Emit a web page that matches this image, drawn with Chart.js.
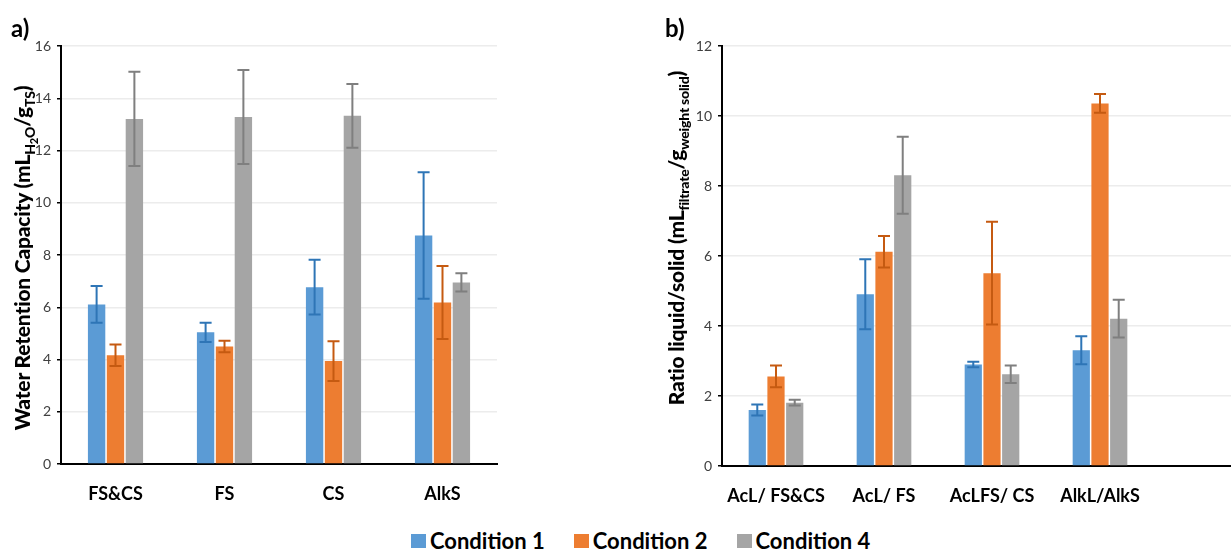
<!DOCTYPE html>
<html>
<head>
<meta charset="utf-8">
<script src="https://cdn.jsdelivr.net/npm/chart.js@4.4.1/dist/chart.umd.min.js"></script>
<style>
  html, body { margin: 0; padding: 0; background: #fff; }
  #page { position: relative; width: 1231px; height: 552px; overflow: hidden; font-family: Lato, "Open Sans", sans-serif; }
  canvas { position: absolute; top: 0; }
  #chartA { left: 0; }
  #chartB { left: 620px; }
  .panel { position: absolute; font-weight: bold; font-size: 24px; color: #000; }
  .ytitle { position: absolute; font-weight: 900; font-size: 21px; color: #000; white-space: nowrap;
            text-align: center; transform: rotate(-90deg); line-height: 24px; height: 24px; letter-spacing: -0.2px; }
  .ytitle sub { font-size: 14px; vertical-align: -5px; line-height: 0; }
  .ytitle sub sub { font-size: 11px; vertical-align: -3px; }
  #legend { position: absolute; left: 411px; top: 527px; display: flex; align-items: center;
            font-weight: bold; font-size: 22px; color: #000; }
  #legend span.box { display: inline-block; width: 15px; height: 14px; margin-right: 4px; }
  #legend .item { display: flex; align-items: center; margin-right: 29px; }
</style>
</head>
<body>
<div id="page">
  <canvas id="chartA" width="500" height="520"></canvas>
  <canvas id="chartB" width="660" height="520"></canvas>
  <div class="panel" style="left:11px; top:13px;">a)</div>
  <div class="panel" style="left:665px; top:13px;">b)</div>
  <div class="ytitle" style="width:420px; left:-188px; top:246px;">Water Retention Capacity (mL<sub>H<sub>2</sub>O</sub>/g<sub>TS</sub>)</div>
  <div class="ytitle" style="width:420px; left:466px; top:226px;">Ratio liquid/solid (mL<sub>filtrate</sub>/g<sub>weight solid</sub>)</div>
  <div id="legend"></div>
</div>
<script>
// panel a) water retention capacity
var catsA = ["FS&CS", "FS", "CS", "AlkS"]
var cond1A = [6.11, 5.04, 6.77, 8.75]
var err1A = [0.70, 0.37, 1.05, 2.42]
var cond2A = [4.16, 4.50, 3.94, 6.18]
var err2A = [0.41, 0.22, 0.76, 1.40]
var cond4A = [13.21, 13.28, 13.33, 6.95]
var err4A = [1.80, 1.80, 1.22, 0.35]

// panel b) ratio liquid/solid
var catsB = ["AcL/ FS&CS", "AcL/ FS", "AcLFS/ CS", "AlkL/AlkS"]
var cond1B = [1.60, 4.91, 2.90, 3.31]
var err1B = [0.16, 1.00, 0.08, 0.40]
var cond2B = [2.56, 6.12, 5.51, 10.36]
var err2B = [0.31, 0.45, 1.47, 0.27]
var cond4B = [1.81, 8.31, 2.62, 4.21]
var err4B = [0.08, 1.10, 0.25, 0.54]

var seriesNames = ["Condition 1", "Condition 2", "Condition 4"]
var fillColors = ["#5B9BD5", "#ED7D31", "#A5A5A5"]
var errColors = ["#2E75B6", "#C55A11", "#7F7F7F"]

// draws the whiskers using the y scale of each chart
var errorBars = {
    id: "errorBars",
    afterDatasetsDraw(chart) {
        const ctx = chart.ctx
        const y = chart.scales.y
        chart.data.datasets.forEach((ds, d) => {
            const meta = chart.getDatasetMeta(d)
            meta.data.forEach((bar, i) => {
                const v = ds.data[i]
                const e = ds.errors[i]
                if (v == null) return
                const top = y.getPixelForValue(v + e)
                const bot = y.getPixelForValue(v - e)
                ctx.save()
                ctx.strokeStyle = ds.errColor
                ctx.lineWidth = 2
                ctx.beginPath()
                ctx.moveTo(bar.x, top)
                ctx.lineTo(bar.x, bot)
                ctx.moveTo(bar.x - 6, top)
                ctx.lineTo(bar.x + 6, top)
                ctx.moveTo(bar.x - 6, bot)
                ctx.lineTo(bar.x + 6, bot)
                ctx.stroke()
                ctx.restore()
            })
        })
    }
}

function makeDatasets(vals, errs) {
    return vals.map((v, i) => ({
        label: seriesNames[i],
        data: v,
        errors: errs[i],
        errColor: errColors[i],
        backgroundColor: fillColors[i],
        borderWidth: 0,
        categoryPercentage: 0.52,
        barPercentage: 0.92,
    }))
}

function makeOptions(yMax, yWidth, xHeight, padRight) {
    return {
        responsive: false,
        animation: false,
        devicePixelRatio: 1,
        layout: { padding: { top: 46, right: padRight, left: 0, bottom: 0 } },
        plugins: { legend: { display: false }, tooltip: { enabled: false } },
        scales: {
            x: {
                grid: { display: false, drawTicks: false },
                border: { color: "#000", width: 2 },
                ticks: { color: "#000", padding: 19, font: { family: "Lato", size: 18, weight: "bold" }, maxRotation: 0, autoSkip: false },
                afterFit(s) { s.height = xHeight },
            },
            y: {
                min: 0, max: yMax,
                ticks: { stepSize: 2, color: "#404040", padding: 6, font: { family: "Lato", size: 14 } },
                grid: { color: "#ececec", lineWidth: 1.5, tickLength: 4, tickColor: "#000", tickWidth: 1.5 },
                border: { color: "#000", width: 2 },
                afterFit(s) { s.width = yWidth },
            },
        },
    }
}

new Chart(document.getElementById("chartA").getContext("2d"), {
    type: "bar",
    data: { labels: catsA, datasets: makeDatasets([cond1A, cond2A, cond4A], [err1A, err2A, err4A]) },
    options: makeOptions(16, 61, 56, 3),
    plugins: [errorBars],
})

// the right panel is cut off at the page edge, so leave an empty slot after the last group
new Chart(document.getElementById("chartB").getContext("2d"), {
    type: "bar",
    data: { labels: [...catsB, ""], datasets: makeDatasets([cond1B, cond2B, cond4B], [err1B, err2B, err4B]) },
    options: makeOptions(12, 102, 54, 18),
    plugins: [errorBars],
})

var legend = document.getElementById("legend")
seriesNames.forEach((n, i) => {
    legend.innerHTML += `<div class="item"><span class="box" style="background:${fillColors[i]}"></span>${n}</div>`
})
</script>
</body>
</html>
